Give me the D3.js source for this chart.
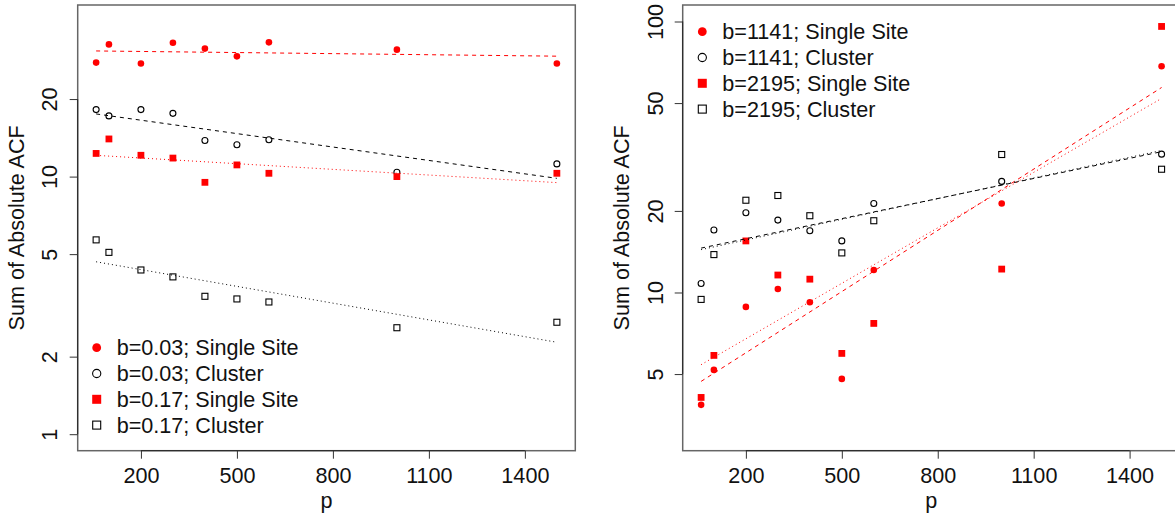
<!DOCTYPE html>
<html lang="en">
    <head>
        <meta charset="utf-8">
        <title>Sum of Absolute ACF</title>
        <script src="https://cdn.jsdelivr.net/npm/d3@7"></script>
        <style type="text/css">
            body {margin: 0; background: #fff; overflow: hidden;}
            svg {display: block; font-family: "Liberation Sans", Arial, sans-serif;}
        </style>
    </head>
    <body>
        <svg width="1175" height="525"></svg>
        <script>
            // data
            var p = [60, 100, 200, 300, 400, 500, 600, 1000, 1500];
            var xTicks = [200, 500, 800, 1100, 1400];

            var leftTicks = [1, 2, 5, 10, 20];
            var leftLimits = [1, 40];
            var b003Single = [27.7, 32.6, 27.5, 33.1, 31.4, 29.3, 33.2, 31.1, 27.5];
            var b003Cluster = [18.2, 17.2, 18.2, 17.6, 13.8, 13.3, 13.9, 10.4, 11.2];
            var b017Single = [12.3, 14.0, 12.1, 11.8, 9.5, 11.1, 10.3, 10.0, 10.3];
            var b017Cluster = [5.68, 5.08, 4.34, 4.08, 3.43, 3.35, 3.26, 2.59, 2.72];

            var rightTicks = [5, 10, 20, 50, 100];
            var rightLimits = [3, 100];
            var b1141Single = [3.85, 5.18, 8.85, 10.3, 9.2, 4.80, 12.1, 21.3, 68.4];
            var b1141Cluster = [10.8, 17.0, 19.7, 18.5, 16.9, 15.5, 21.3, 25.7, 32.4];
            var b2195Single = [4.1, 5.86, 15.5, 11.6, 11.2, 5.96, 7.69, 12.2, 95.9];
            var b2195Cluster = [9.43, 13.8, 21.9, 22.8, 19.2, 14.0, 18.4, 32.3, 28.5];

            var panels = [
                {
                    x0: 77.7, x1: 575.3, limits: leftLimits, ticks: leftTicks,
                    legend: {x: 96.7, y: 347.7},
                    series: [
                        {label: 'b=0.03; Single Site', values: b003Single, color: 'red', shape: 'circle', filled: true, dash: '4,4'},
                        {label: 'b=0.03; Cluster', values: b003Cluster, color: 'black', shape: 'circle', filled: false, dash: '4,4'},
                        {label: 'b=0.17; Single Site', values: b017Single, color: 'red', shape: 'square', filled: true, dash: '1,3'},
                        {label: 'b=0.17; Cluster', values: b017Cluster, color: 'black', shape: 'square', filled: false, dash: '1,3'}
                    ]
                },
                {
                    x0: 682.7, x1: 1180, limits: rightLimits, ticks: rightTicks,
                    legend: {x: 702.3, y: 31.7},
                    series: [
                        {label: 'b=1141; Single Site', values: b1141Single, color: 'red', shape: 'circle', filled: true, dash: '4,4'},
                        {label: 'b=1141; Cluster', values: b1141Cluster, color: 'black', shape: 'circle', filled: false, dash: '4,4'},
                        {label: 'b=2195; Single Site', values: b2195Single, color: 'red', shape: 'square', filled: true, dash: '1,3'},
                        {label: 'b=2195; Cluster', values: b2195Cluster, color: 'black', shape: 'square', filled: false, dash: '1,3'}
                    ]
                }
            ];

            var plotTop = 5, plotBottom = 450.7;
            var fontSize = 21.6;
            var svg = d3.select('svg');

            // R style 4% padding
            var pad = function(lo, hi) {
                var d = (hi - lo) * 0.04;
                return [lo - d, hi + d];
            };

            var fit = function(values) {
                var ly = values.map(function(v) { return Math.log10(v); });
                var mx = d3.mean(p), my = d3.mean(ly);
                var sxy = 0, sxx = 0;
                p.forEach(function(x, i) {
                    sxy += (x - mx) * (ly[i] - my);
                    sxx += (x - mx) * (x - mx);
                });
                var b = sxy / sxx, a = my - b * mx;
                var ends = d3.extent(p);
                return ends.map(function(x) { return {p: x, v: Math.pow(10, a + b * x)}; });
            };

            var drawSymbol = function(g, s, cx, cy, big) {
                if (s.shape === 'circle') {
                    var r = big ? 4.4 : 3.3;
                    g.append('circle')
                        .attr('cx', cx).attr('cy', cy).attr('r', s.filled ? r : r - 0.3)
                        .attr('fill', s.filled ? s.color : 'none')
                        .attr('stroke', s.filled ? 'none' : s.color)
                        .attr('stroke-width', 1.1);
                } else {
                    var w = big ? (s.filled ? 9 : 8) : (s.filled ? 6.8 : 6);
                    g.append('rect')
                        .attr('x', cx - w / 2).attr('y', cy - w / 2)
                        .attr('width', w).attr('height', w)
                        .attr('fill', s.filled ? s.color : 'none')
                        .attr('stroke', s.filled ? 'none' : s.color)
                        .attr('stroke-width', 1.1);
                }
            };

            panels.forEach(function(panel) {
                var xd = pad(d3.min(p), d3.max(p));
                var x = d3.scaleLinear().domain(xd).range([panel.x0, panel.x1]);
                var ld = pad(Math.log10(panel.limits[0]), Math.log10(panel.limits[1]));
                var y = d3.scaleLog()
                    .domain([Math.pow(10, ld[0]), Math.pow(10, ld[1])])
                    .range([plotBottom, plotTop]);

                var g = svg.append('g');

                // points
                panel.series.forEach(function(s) {
                    s.values.forEach(function(v, i) {
                        drawSymbol(g, s, x(p[i]), y(v), false);
                    });
                });

                // fitted lines, log(y) ~ p
                var line = d3.line()
                    .x(function(d) { return x(d.p); })
                    .y(function(d) { return y(d.v); });
                panel.series.forEach(function(s) {
                    g.append('path')
                        .datum(fit(s.values))
                        .attr('d', line)
                        .attr('fill', 'none')
                        .attr('stroke', s.color)
                        .attr('stroke-width', 1)
                        .attr('stroke-dasharray', s.dash);
                });

                // box
                g.append('rect')
                    .attr('x', panel.x0).attr('y', plotTop)
                    .attr('width', panel.x1 - panel.x0).attr('height', plotBottom - plotTop)
                    .attr('fill', 'none').attr('stroke', '#666').attr('stroke-width', 1.5);

                // x axis
                var xa = g.append('g')
                    .attr('transform', 'translate(0,' + plotBottom + ')')
                    .call(d3.axisBottom(x).tickValues(xTicks).tickSize(8).tickFormat(d3.format('d')));
                xa.select('.domain').attr('d', 'M' + x(xTicks[0]) + ',0H' + x(xTicks[xTicks.length - 1]))
                    .attr('stroke', '#222');
                xa.selectAll('.tick line').attr('stroke', '#333');
                xa.selectAll('.tick text')
                    .attr('y', 32.3).attr('dy', null)
                    .attr('font-size', fontSize).attr('fill', '#111');
                xa.attr('font-family', null).attr('font-size', null);

                // y axis
                var ya = g.append('g')
                    .attr('transform', 'translate(' + panel.x0 + ',0)')
                    .call(d3.axisLeft(y).tickValues(panel.ticks).tickSize(8).tickFormat(d3.format('d')));
                ya.select('.domain').attr('d', 'M0,' + y(panel.ticks[0]) + 'V' + y(panel.ticks[panel.ticks.length - 1]))
                    .attr('stroke', '#222');
                ya.selectAll('.tick line').attr('stroke', '#333');
                ya.selectAll('.tick text')
                    .attr('x', null).attr('dy', null)
                    .attr('transform', 'translate(-20.2,0) rotate(-90)')
                    .attr('text-anchor', 'middle')
                    .attr('font-size', fontSize).attr('fill', '#111');
                ya.attr('font-family', null).attr('font-size', null);

                // axis titles
                g.append('text')
                    .attr('x', (panel.x0 + panel.x1) / 2).attr('y', 507.5)
                    .attr('text-anchor', 'middle').attr('font-size', fontSize).attr('fill', '#111')
                    .text('p');
                g.append('text')
                    .attr('transform', 'translate(' + (panel.x0 - 54) + ',' + ((plotTop + plotBottom) / 2) + ') rotate(-90)')
                    .attr('text-anchor', 'middle').attr('font-size', fontSize).attr('fill', '#111')
                    .text('Sum of Absolute ACF');

                // legend
                panel.series.forEach(function(s, i) {
                    var ly = panel.legend.y + i * 25.8;
                    drawSymbol(g, s, panel.legend.x, ly, true);
                    g.append('text')
                        .attr('x', panel.legend.x + 20).attr('y', ly).attr('dy', '0.36em')
                        .attr('font-size', fontSize).attr('fill', '#111')
                        .text(s.label);
                });
            });
        </script>
    </body>
</html>
